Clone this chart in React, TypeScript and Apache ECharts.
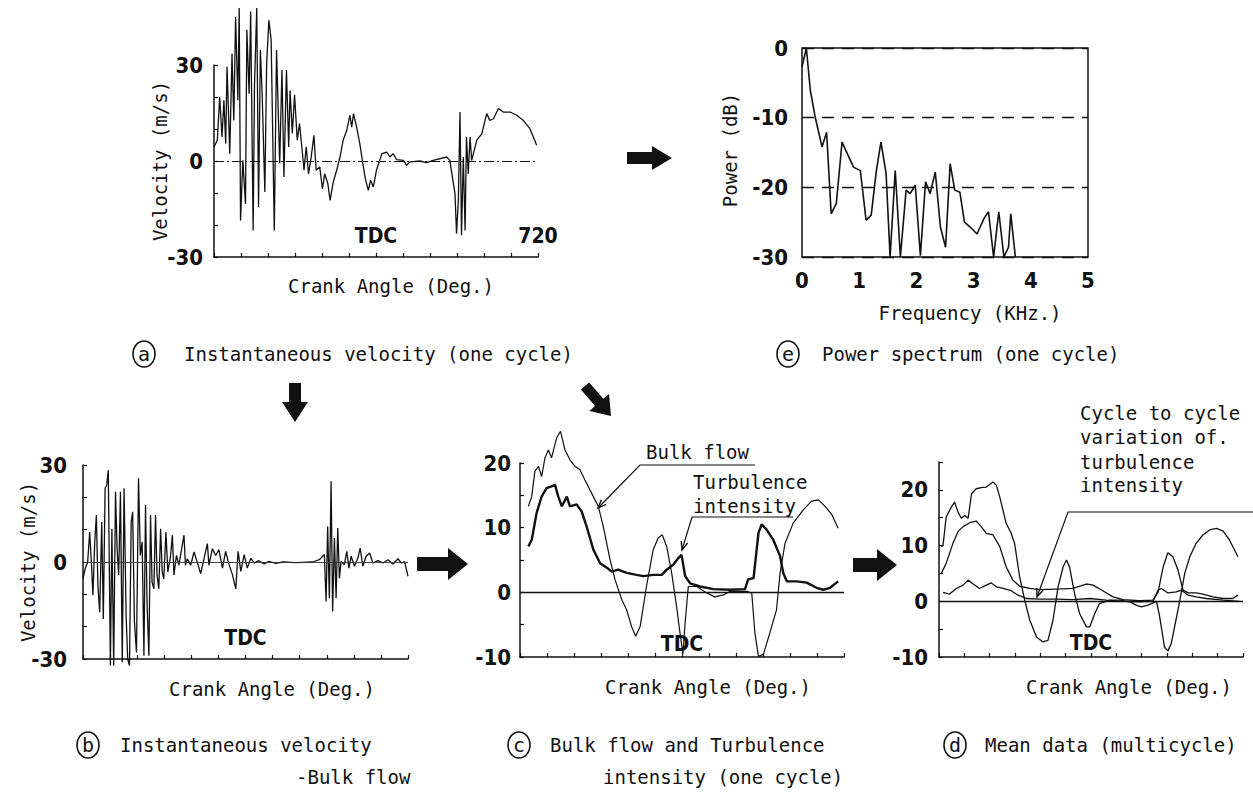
import React, { useEffect, useRef } from "react";
import * as echarts from "echarts";

const INK = "#111";
const FONT = "'DejaVu Sans Mono', 'Liberation Mono', monospace";
const NUMFONT = "'Liberation Sans Narrow', 'DejaVu Sans Condensed', 'Liberation Sans', sans-serif";

// ---------- (a) instantaneous velocity, one cycle ----------
const A_ANGLE = [0, 7.4, 12.6, 17.8, 22, 26, 29, 35, 40, 44, 48, 53, 56, 59, 64, 70, 73, 78, 81.5, 87, 90, 95, 99, 103, 107, 113, 117, 122, 127, 134, 139, 146, 151, 155.5, 161, 166, 169, 174, 179, 185, 190, 196, 200, 205, 210, 216, 222, 227, 235, 241, 246, 253, 258, 265, 272.6, 280, 287, 295, 302, 306, 310, 317, 324, 332, 337, 343, 348, 354, 361, 373, 384, 391, 398, 406, 421, 428, 435, 458, 472, 487, 517, 524, 535.5, 539, 543, 546.7, 550, 554, 558, 561, 565, 569, 572.6, 584, 595, 606, 613, 621, 632, 643, 658, 672.6, 687, 702, 709.6, 717];
const A_VEL = [4.4, 6.5, 20, 7.5, 19, 5.4, 29.5, 2.3, 33.6, 12.7, 45, 19, 47.8, -18.6, 0.2, -13.4, 41, 21, 46.7, -21.7, 24, 47.8, -14.4, 34.7, 21, -9.7, 30.5, 44, 37.8, -21.7, 34.7, -0.8, 28.4, -5, 28.4, 4.4, 22, 8.6, 20.6, 6.5, 11.7, 3.3, -2.9, 4.4, -4, 1.3, 8, -2.9, -1.9, -8.7, -4, -7.1, -12.3, -6.6, -2.9, 1.25, 6.5, 9.6, 14.3, 10.6, 14.8, 10.6, 5.4, -1.9, -6, -9.2, -6, -8.1, -2.9, 2.3, 2.8, 1.25, 2.3, 0.4, 0.2, -1.35, -0.3, 0, -0.5, 0.2, 1.25, 0.2, -10.2, -22.7, -12.3, 15.3, -23.2, 1.25, -21.7, 7.5, -4, 7.5, 0.2, 6.5, 8.5, 14.8, 12.7, 13.2, 16.4, 15.3, 15.3, 14.3, 12.7, 10.1, 7.5, 4.9];

// ---------- (b) instantaneous velocity - bulk flow ----------
const B_ANGLE = [0, 5, 10.4, 14.8, 18.5, 22, 26, 29.6, 33, 37, 41.5, 45, 49, 52.6, 56, 60.7, 64, 68, 72, 75.5, 79, 83, 87, 91, 95.5, 99, 103, 106.7, 110, 114, 118.5, 123, 127, 131, 135, 138.5, 142, 146, 149.6, 153, 157, 160.7, 164, 168, 172, 175.5, 179, 183.7, 188, 194, 198, 201.5, 207, 212.6, 216, 223.7, 227, 231, 238.5, 246, 253, 260.7, 268, 275.5, 279, 286.7, 294, 301, 309, 316, 323.6, 331, 338.5, 343.6, 349.6, 357, 364, 371.8, 379, 390, 401, 412, 427, 442, 471.8, 509, 523.6, 534.7, 538.5, 542, 545.8, 549.6, 553, 557, 560.7, 564.4, 568, 571.8, 579, 584.4, 589, 594, 601.4, 609, 614, 620, 627, 635, 642, 653, 664.5, 675.6, 686.7, 697.8, 705, 712.6, 720];
const B_VEL = [-5.2, -2, 0, 9.3, 0, -10.3, 6.2, 14.5, -7.2, -15.5, 12.4, -17.6, 22.8, 23.8, 28.4, -32, 10.3, -32, 21.7, 4.1, -4, 21.7, -31, 22.8, -16.5, -30, -32, 12.4, 15.5, -18.6, -28, 25.9, 2, 6.2, -29, 17.6, -13.4, -29, 14.5, -6.2, -8.3, 14.5, -4, -8.3, 10.3, -3.1, -5.2, 9.3, -3.1, 2, 8.3, -4, 2, -1, 2, 8.3, -1, 1, -1, 3.1, 0, -3.6, 1, 5.7, -1, 4.1, 2, 3.8, -1.9, 3.3, -0.8, -3.9, -8.3, 3.3, -2.9, 2.3, -1.9, 1.2, -0.3, 0.4, -0.6, 0.2, -0.4, 0, -0.2, 0, 0.7, 2.3, -12.2, 11, -11.2, 25, -15.3, 7.4, -11.2, 10.5, -5, 0.2, -0.8, 3.3, -1.9, 1.8, -1.3, 1.2, 4.3, -1.3, 1.8, 2.8, -0.3, 0.4, -0.3, 0.7, -0.6, 1, -0.3, 0, -4.4];

// ---------- (c) bulk flow and turbulence intensity, one cycle ----------
const C_BULK_ANGLE = [18.5, 26, 33, 41, 48, 55.5, 63, 70, 81.5, 90, 100, 111, 122, 133, 144, 163, 174, 185, 200, 211, 226, 237, 248, 257, 267, 281, 296, 307, 316, 326, 337, 348, 355, 362, 367, 374, 393, 415, 433, 452, 467, 504, 515, 522, 530, 541, 555, 570, 578, 589, 607, 630, 648, 663, 678, 693, 707];
const C_BULK = [13.3, 14.8, 18.7, 19.5, 17.9, 20.8, 22, 20.8, 23.9, 24.9, 22, 20.5, 19.5, 19, 17.4, 14.8, 13.3, 10.2, 5.1, 2, -1.1, -2.7, -5.3, -6.8, -5.3, 0.9, 6.6, 8.4, 8.9, 7.1, 3, -2.2, -6, -9.5, -4.7, 0.9, 0.9, -0.1, -0.7, -0.4, 0.15, 0.15, -0.1, -6.3, -9.9, -9.6, -6.3, -2.7, 3, 7.6, 10.7, 12.8, 14.1, 14.3, 13.3, 12, 9.9];
const C_TURB_ANGLE = [18.5, 26, 37, 48, 59, 70, 78, 85, 93, 104, 111, 126, 137, 148, 163, 178, 193, 204, 218, 237, 259, 274, 296, 315, 326, 341, 352, 359, 367, 378, 400, 430, 467, 500, 507, 519, 530, 537, 548, 563, 578, 585, 593, 615, 637, 659, 674, 689, 707];
const C_TURB = [7.1, 8.1, 12.3, 14.8, 16.1, 16.4, 16.6, 14.8, 13.3, 14.8, 13.3, 13.6, 12.5, 10.2, 6.6, 4.5, 3.8, 3.2, 3.5, 3, 2.7, 2.5, 2.7, 2.7, 3.5, 4.3, 5.3, 5.8, 2.5, 1.4, 0.9, 0.5, 0.4, 0.5, 2, 2.2, 9.2, 10.5, 9.7, 8.1, 5.6, 3, 1.7, 1.7, 1.5, 0.7, 0.4, 0.7, 1.7];

// ---------- (d) mean data, multicycle ----------
const D_BULK_ANGLE = [5.5, 9.5, 17, 29, 37, 45, 53, 61, 69, 77, 88, 100, 112, 128, 136, 144, 159, 171, 179, 191, 203, 215, 231, 246, 258, 270, 282, 294, 302, 309, 321, 333, 349, 357, 369, 380, 404, 428, 452, 467, 479, 495, 515, 522, 534, 542, 550, 558, 570, 582, 594, 609, 625, 641, 657, 673, 688, 708];
const D_BULK = [9.8, 10, 15.1, 16.9, 17.8, 16, 14.9, 15.4, 14.9, 19.3, 20.2, 20.4, 20.5, 21.4, 20.8, 18.7, 14, 12.2, 10.4, 4.4, 0.2, -3.4, -6.4, -7.3, -7, -3.4, 2.6, 6.2, 7.4, 6.2, 1.4, -2.2, -4.6, -4.6, -2.2, -0.4, 0.2, 0.2, -0.1, -0.7, -1, -0.7, 0, -2.5, -8.2, -8.9, -7.6, -4.6, 0, 5, 8, 10.4, 11.9, 12.8, 13.1, 12.6, 11, 8];
const D_TURB_ANGLE = [5.5, 17, 33, 45, 57, 73, 88, 100, 112, 128, 144, 159, 175, 191, 215, 238, 278, 317, 349, 365, 388, 412, 436, 475, 507, 519, 531, 542, 554, 566, 578, 590, 609, 625, 649, 673, 696, 708];
const D_TURB = [5, 6.8, 10.4, 12.5, 13.4, 14.1, 14.4, 13.4, 12.2, 11.9, 9.8, 6.2, 3.8, 2.7, 2.3, 2.1, 2.2, 2.3, 3.1, 2.9, 1.9, 0.8, 0.3, 0.1, 0.2, 1.7, 6.2, 8.7, 8, 5.6, 2, 1.5, 1.5, 1.3, 0.8, 0.5, 0.5, 1.1];
const D_CCV_ANGLE = [9.5, 25, 41, 57, 69, 81, 96, 112, 124, 136, 152, 171, 187, 207, 238, 278, 317, 357, 396, 436, 475, 507, 519, 527, 542, 562, 574, 590, 609, 633, 673, 712];
const D_CCV = [1.6, 1.3, 2.3, 2.9, 3.8, 3.1, 2.3, 2.9, 3.3, 2.6, 2.3, 1.9, 1.1, 0.5, 0.4, 0.4, 0.3, 0.5, 0.2, 0, -0.1, 0, 2, 2.3, 1.5, 1.7, 2, 1.1, 0.8, 0.5, 0.2, 0];

// ---------- (e) power spectrum, one cycle ----------
const E_FREQ = [0, 0.076, 0.146, 0.23, 0.35, 0.43, 0.51, 0.6, 0.7, 0.9, 1.02, 1.12, 1.21, 1.3, 1.38, 1.47, 1.54, 1.63, 1.72, 1.82, 1.89, 1.98, 2.07, 2.16, 2.24, 2.33, 2.42, 2.51, 2.59, 2.67, 2.76, 2.84, 2.94, 3.06, 3.18, 3.26, 3.35, 3.44, 3.53, 3.61, 3.65, 3.73];
const E_POWER = [-2.7, 0, -6.1, -9.9, -14.2, -12.1, -23.8, -22.3, -13.5, -17.1, -17.6, -24.7, -24, -17.6, -13.5, -18, -30, -17.6, -30, -20.4, -20.9, -19.7, -29.8, -19.2, -20.9, -17.8, -25.7, -28.6, -16.6, -20.4, -20.7, -25, -25.7, -26.7, -24.5, -23.5, -30, -23.5, -30, -28.6, -23.8, -30];

const CRANK_TITLE = "Crank Angle (Deg.)";

function pairs(xs: number[], ys: number[]) {
  return xs.map((x, i) => [x, ys[i]]);
}

const axisLineStyle = { color: INK, width: 1.5 };

function crankAxis(gridIndex: number, labels: Record<number, string>, margin: number) {
  return {
    type: "value",
    gridIndex,
    min: 0,
    max: 720,
    interval: 60,
    axisLine: { show: true, onZero: false, lineStyle: axisLineStyle },
    axisTick: { show: true, inside: true, length: 4, lineStyle: { color: INK, width: 1.2 } },
    axisLabel: {
      show: true,
      inside: true,
      margin,
      formatter: (v: number) => labels[v] || "",
      fontFamily: NUMFONT,
      fontWeight: "bold",
      fontSize: 21,
      color: INK,
    },
    splitLine: { show: false },
  };
}

function valueAxis(gridIndex: number, min: number, max: number, interval: number, step: number, margin: number) {
  return {
    type: "value",
    gridIndex,
    min,
    max,
    interval,
    axisLine: { show: true, onZero: false, lineStyle: axisLineStyle },
    axisTick: { show: true, inside: true, length: 4, lineStyle: { color: INK, width: 1.2 } },
    axisLabel: {
      margin,
      formatter: (v: number) => (Math.abs(v % step) < 1e-9 ? String(v) : ""),
      fontFamily: NUMFONT,
      fontWeight: "bold",
      fontSize: 22,
      color: INK,
    },
    splitLine: { show: false },
  };
}

function zeroLine(color: string, width: number, type: any) {
  return {
    silent: true,
    symbol: ["none", "none"],
    label: { show: false },
    lineStyle: { color, width, type },
    data: [{ yAxis: 0 }],
  };
}

function lineSeries(x: number, y: number, data: number[][], width: number, extra: any = {}) {
  return {
    type: "line",
    xAxisIndex: x,
    yAxisIndex: y,
    data,
    showSymbol: false,
    symbol: "none",
    clip: false,
    lineStyle: { color: INK, width },
    silent: true,
    ...extra,
  };
}

function arrowPoly(x1: number, y1: number, x2: number, y2: number, bw: number, hw: number, hl: number) {
  const dx = x2 - x1, dy = y2 - y1, L = Math.hypot(dx, dy);
  const ux = dx / L, uy = dy / L, px = -uy, py = ux;
  const bx = x2 - ux * hl, by = y2 - uy * hl;
  return {
    type: "polygon",
    shape: {
      points: [
        [x1 + (px * bw) / 2, y1 + (py * bw) / 2],
        [bx + (px * bw) / 2, by + (py * bw) / 2],
        [bx + (px * hw) / 2, by + (py * hw) / 2],
        [x2, y2],
        [bx - (px * hw) / 2, by - (py * hw) / 2],
        [bx - (px * bw) / 2, by - (py * bw) / 2],
        [x1 - (px * bw) / 2, y1 - (py * bw) / 2],
      ],
    },
    style: { fill: INK },
    silent: true,
  };
}

function leader(points: number[][], len = 9, ang = 0.38) {
  const n = points.length;
  const [tx, ty] = points[n - 1];
  const [fx, fy] = points[n - 2];
  const L = Math.hypot(fx - tx, fy - ty);
  const ux = (fx - tx) / L, uy = (fy - ty) / L;
  const rot = (a: number) => [tx + len * (ux * Math.cos(a) - uy * Math.sin(a)), ty + len * (ux * Math.sin(a) + uy * Math.cos(a))];
  return [
    { type: "polyline", shape: { points }, style: { stroke: INK, lineWidth: 1.2, fill: null }, silent: true },
    { type: "polyline", shape: { points: [rot(ang), [tx, ty], rot(-ang)] }, style: { stroke: INK, lineWidth: 1.4, fill: null }, silent: true },
  ];
}

function txt(text: string, x: number, y: number, align = "left", size = 19, extra: any = {}) {
  return {
    type: "text",
    x,
    y,
    silent: true,
    ...extra,
    style: { text, fill: INK, font: `${size}px ${FONT}`, align, verticalAlign: "middle" },
  };
}

function circled(letter: string, cx: number, cy: number) {
  return [
    { type: "ellipse", shape: { cx, cy, rx: 11, ry: 13 }, style: { fill: "transparent", stroke: INK, lineWidth: 1.6 }, silent: true },
    txt(letter, cx, cy, "center", 20),
  ];
}

const CAP1_Y = 354;

function buildOption() {
  const grids = [
    { left: 214, top: 65, width: 324, height: 192 }, // a
    { left: 802, top: 48, width: 286, height: 209, show: true, borderColor: INK, borderWidth: 1.5, backgroundColor: "transparent" }, // e
    { left: 83, top: 465, width: 325, height: 194 }, // b
    { left: 520, top: 463, width: 324, height: 194 }, // c
    { left: 939, top: 462, width: 304, height: 195 }, // d
  ].map((g) => ({ ...g, containLabel: false, outerBoundsMode: "none" }));

  const xAxis = [
    crankAxis(0, { 360: "TDC", 720: "720" }, 11),
    {
      type: "value",
      gridIndex: 1,
      min: 0,
      max: 5,
      interval: 1,
      axisLine: { show: false },
      axisTick: { show: false },
      axisLabel: { margin: 12, fontFamily: NUMFONT, fontWeight: "bold", fontSize: 22, color: INK },
      splitLine: { show: false },
    },
    crankAxis(2, { 360: "TDC" }, 11),
    crankAxis(3, { 360: "TDC" }, 3),
    crankAxis(4, { 360: "TDC" }, 4),
  ];

  const yAxis = [
    valueAxis(0, -30, 30, 10, 30, 11),
    {
      type: "value",
      gridIndex: 1,
      min: -30,
      max: 0,
      interval: 10,
      axisLine: { show: false },
      axisTick: { show: false },
      axisLabel: { margin: 14, fontFamily: NUMFONT, fontWeight: "bold", fontSize: 22, color: INK },
      splitLine: { show: true, lineStyle: { color: INK, width: 1.3, type: [12, 8] } },
    },
    valueAxis(2, -30, 30, 10, 30, 16),
    valueAxis(3, -10, 20, 5, 10, 9),
    valueAxis(4, -10, 25, 5, 10, 11),
  ];

  const series = [
    lineSeries(0, 0, pairs(A_ANGLE, A_VEL), 1.3, { markLine: zeroLine(INK, 1.2, [10, 3, 2, 3]) }),
    lineSeries(1, 1, pairs(E_FREQ, E_POWER), 1.6),
    lineSeries(2, 2, pairs(B_ANGLE, B_VEL), 1.3, { markLine: zeroLine("#333", 0.9, "solid") }),
    lineSeries(3, 3, pairs(C_BULK_ANGLE, C_BULK), 1.2, { markLine: zeroLine(INK, 1.4, "solid") }),
    lineSeries(3, 3, pairs(C_TURB_ANGLE, C_TURB), 2.4),
    lineSeries(4, 4, pairs(D_BULK_ANGLE, D_BULK), 1.3, { markLine: zeroLine(INK, 1.4, "solid") }),
    lineSeries(4, 4, pairs(D_TURB_ANGLE, D_TURB), 1.3),
    lineSeries(4, 4, pairs(D_CCV_ANGLE, D_CCV), 1.3),
  ];

  const graphic: any[] = [
    // axis titles
    txt("Velocity (m/s)", 160, 161, "center", 19, { rotation: Math.PI / 2 }),
    txt("Velocity (m/s)", 28, 562, "center", 19, { rotation: Math.PI / 2 }),
    txt("Power (dB)", 730, 150, "center", 19, { rotation: Math.PI / 2 }),
    txt(CRANK_TITLE, 391, 286, "center"),
    txt(CRANK_TITLE, 272, 689, "center"),
    txt(CRANK_TITLE, 708, 687, "center"),
    txt(CRANK_TITLE, 1129, 687, "center"),
    txt("Frequency (KHz.)", 970, 313, "center"),
    // captions
    ...circled("a", 144, CAP1_Y),
    txt("Instantaneous velocity (one cycle)", 184, CAP1_Y),
    ...circled("e", 788, CAP1_Y),
    txt("Power spectrum (one cycle)", 822, CAP1_Y),
    ...circled("b", 88, 745),
    txt("Instantaneous velocity", 120, 745),
    txt("-Bulk flow", 296, 777),
    ...circled("c", 519, 745),
    txt("Bulk flow and Turbulence", 550, 745),
    txt("intensity (one cycle)", 603, 777),
    ...circled("d", 955, 745),
    txt("Mean data (multicycle)", 985, 745),
    // annotations (c)
    txt("Bulk flow", 646, 452),
    txt("Turbulence", 693, 482),
    txt("intensity", 693, 506),
    ...leader([[755, 465], [640, 465], [598, 508]]),
    ...leader([[793, 517], [692, 517], [682, 550]]),
    // annotation (d)
    txt("Cycle to cycle", 1080, 413),
    txt("variation of.", 1080, 437),
    txt("turbulence", 1080, 462),
    txt("intensity", 1080, 485),
    ...leader([[1253, 512], [1068, 512], [1037, 597]]),
    // flow arrows
    arrowPoly(627, 158, 672, 158, 12, 24, 20),
    arrowPoly(295, 383, 295, 422, 12, 26, 20),
    arrowPoly(585, 386, 611, 416, 11, 26, 18),
    arrowPoly(417, 564, 468, 564, 14, 32, 20),
    arrowPoly(853, 565, 897, 565, 14, 32, 20),
  ];

  return {
    animation: false,
    backgroundColor: "#fff",
    grid: grids,
    xAxis,
    yAxis,
    series,
    graphic: { elements: graphic },
  };
}

export default function App() {
  const ref = useRef<HTMLDivElement>(null);
  useEffect(() => {
    if (!ref.current) return;
    const chart = echarts.init(ref.current, null, { renderer: "svg" });
    chart.setOption(buildOption() as any);
    return () => chart.dispose();
  }, []);
  return (
    <div
      ref={ref}
      style={{ position: "absolute", left: 0, top: 0, width: 1253, height: 792, background: "#fff" }}
    />
  );
}
